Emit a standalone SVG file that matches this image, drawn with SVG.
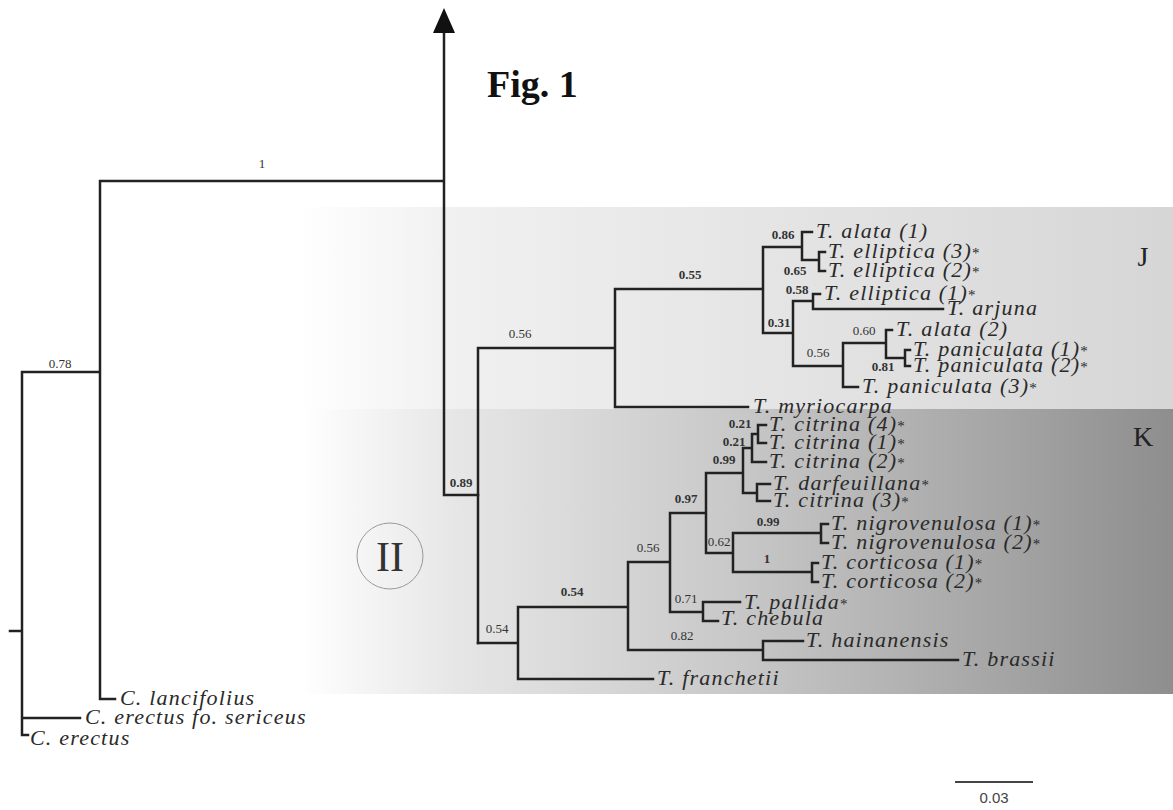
<svg xmlns="http://www.w3.org/2000/svg" width="1173" height="810" viewBox="0 0 1173 810">
<defs>
<linearGradient id="gJ" gradientUnits="userSpaceOnUse" x1="300" y1="0" x2="1173" y2="0">
<stop offset="0" stop-color="#ffffff"/>
<stop offset="0.18" stop-color="#f0f0f0"/>
<stop offset="1" stop-color="#d6d6d6"/>
</linearGradient>
<linearGradient id="gK" gradientUnits="userSpaceOnUse" x1="300" y1="0" x2="1173" y2="0">
<stop offset="0" stop-color="#ffffff"/>
<stop offset="0.18" stop-color="#e6e6e6"/>
<stop offset="0.5" stop-color="#c8c8c8"/>
<stop offset="1" stop-color="#8e8e8e"/>
</linearGradient>
<style>
.br{fill:none;stroke:#222;stroke-width:2.5;stroke-linecap:square}
.tx{font-family:"Liberation Serif",serif;font-style:italic;font-size:22px;letter-spacing:1.2px;fill:#2a2a2a}
.st{font-size:15px;font-style:normal}
.bl{font-family:"Liberation Serif",serif;font-size:13px;fill:#333;text-anchor:middle}
.bb{font-weight:bold}
</style>
</defs>
<rect width="1173" height="810" fill="#fff"/>
<g id="bands">
<rect x="300" y="207" width="873" height="202" fill="url(#gJ)"/>
<rect x="300" y="409" width="873" height="285" fill="url(#gK)"/>
</g>
<g id="connectors">
<path class="br" d="M10,631H22M22,372V735H28M22,718H80M22,372H100M100,181V699H115M100,181H444M444,33V495H478"/>
<path class="br" d="M478,348V643M478,348H615M615,289V407H748M615,289H763M763,247V333M763,247H802M802,232V260M802,232H812M802,260H819M819,252V271M819,252H825M819,271H825M763,333H793M793,301V366M793,301H813M813,294V309M813,294H820M813,309H943M793,366H843M843,343V387M843,343H886M843,387H858M886,330V358M886,330H892M886,358H905M905,350V366M905,350H910M905,366H910"/>
<path class="br" d="M478,643H518M518,607V679H653M518,607H628M628,562V650H763M628,562H670M670,513V612H703M703,602V621M703,602H740M703,621H718M763,641V660M763,641H803M763,660H958M670,513H706M706,473V553H733M733,533V572M733,533H821M821,524V543M821,524H828M821,543H828M733,572H812M812,563V582M812,563H818M812,582H818M706,473H743M743,448V493M743,448H752M752,434V462M752,434H758M752,462H766M758,425V443M758,425H766M758,443H766M743,493H757M757,484V501M757,484H770M757,501H770"/>
<polygon points="444,8 433,33 455,33" fill="#111"/>
</g>
<g id="branch-labels">
<text class="bl" x="262" y="168">1</text>
<text class="bl" x="60" y="368">0.78</text>
<text class="bl bb" x="461" y="487">0.89</text>
<text class="bl" x="520" y="338">0.56</text>
<text class="bl bb" x="690" y="279">0.55</text>
<text class="bl bb" x="783" y="239">0.86</text>
<text class="bl bb" x="795" y="275">0.65</text>
<text class="bl bb" x="797" y="294">0.58</text>
<text class="bl bb" x="779" y="327">0.31</text>
<text class="bl" x="864" y="335">0.60</text>
<text class="bl" x="818" y="357">0.56</text>
<text class="bl bb" x="883" y="371">0.81</text>
<text class="bl bb" x="740" y="428">0.21</text>
<text class="bl bb" x="734" y="446">0.21</text>
<text class="bl bb" x="724" y="464">0.99</text>
<text class="bl bb" x="686" y="503">0.97</text>
<text class="bl bb" x="768" y="526">0.99</text>
<text class="bl" x="719" y="546">0.62</text>
<text class="bl bb" x="767" y="563">1</text>
<text class="bl" x="648" y="552">0.56</text>
<text class="bl" x="686" y="603">0.71</text>
<text class="bl" x="682" y="640">0.82</text>
<text class="bl bb" x="572" y="596">0.54</text>
<text class="bl" x="497" y="633">0.54</text>
</g>
<g id="taxa">
<text class="tx" x="816" y="238">T. alata (1)</text>
<text class="tx" x="828" y="258">T. elliptica (3)<tspan class="st">*</tspan></text>
<text class="tx" x="828" y="277">T. elliptica (2)<tspan class="st">*</tspan></text>
<text class="tx" x="824" y="300">T. elliptica (1)<tspan class="st">*</tspan></text>
<text class="tx" x="947" y="315">T. arjuna</text>
<text class="tx" x="896" y="336">T. alata (2)</text>
<text class="tx" x="913" y="356">T. paniculata (1)<tspan class="st">*</tspan></text>
<text class="tx" x="913" y="372">T. paniculata (2)<tspan class="st">*</tspan></text>
<text class="tx" x="862" y="393">T. paniculata (3)<tspan class="st">*</tspan></text>
<text class="tx" x="753" y="413">T. myriocarpa</text>
<text class="tx" x="769" y="431">T. citrina (4)<tspan class="st">*</tspan></text>
<text class="tx" x="769" y="449">T. citrina (1)<tspan class="st">*</tspan></text>
<text class="tx" x="769" y="468">T. citrina (2)<tspan class="st">*</tspan></text>
<text class="tx" x="773" y="490">T. darfeuillana<tspan class="st">*</tspan></text>
<text class="tx" x="773" y="507">T. citrina (3)<tspan class="st">*</tspan></text>
<text class="tx" x="831" y="530">T. nigrovenulosa (1)<tspan class="st">*</tspan></text>
<text class="tx" x="831" y="549">T. nigrovenulosa (2)<tspan class="st">*</tspan></text>
<text class="tx" x="821" y="569">T. corticosa (1)<tspan class="st">*</tspan></text>
<text class="tx" x="821" y="588">T. corticosa (2)<tspan class="st">*</tspan></text>
<text class="tx" x="744" y="609">T. pallida<tspan class="st">*</tspan></text>
<text class="tx" x="721" y="625">T. chebula</text>
<text class="tx" x="806" y="647">T. hainanensis</text>
<text class="tx" x="962" y="666">T. brassii</text>
<text class="tx" x="657" y="685">T. franchetii</text>
<text class="tx" x="120" y="705">C. lancifolius</text>
<text class="tx" x="85" y="724">C. erectus fo. sericeus</text>
<text class="tx" x="30" y="745">C. erectus</text>
</g>
<g id="clade-labels">
<text x="1143" y="266" font-family="Liberation Serif, serif" font-size="28" fill="#222" text-anchor="middle">J</text>
<text x="1143" y="446" font-family="Liberation Serif, serif" font-size="28" fill="#222" text-anchor="middle">K</text>
</g>
<g id="group-II">
<circle cx="390" cy="556" r="33" fill="none" stroke="#999" stroke-width="1"/>
<text x="390" y="571" font-family="Liberation Serif, serif" font-size="42" fill="#333" text-anchor="middle">II</text>
</g>
<g id="title">
<text x="487" y="97" font-family="Liberation Serif, serif" font-size="38" font-weight="bold" fill="#111">Fig. 1</text>
</g>
<g id="scale">
<line x1="955" y1="782" x2="1033" y2="782" stroke="#444" stroke-width="2"/>
<text x="994" y="803" font-family="Liberation Sans, sans-serif" font-size="15" fill="#444" text-anchor="middle">0.03</text>
</g>
</svg>
